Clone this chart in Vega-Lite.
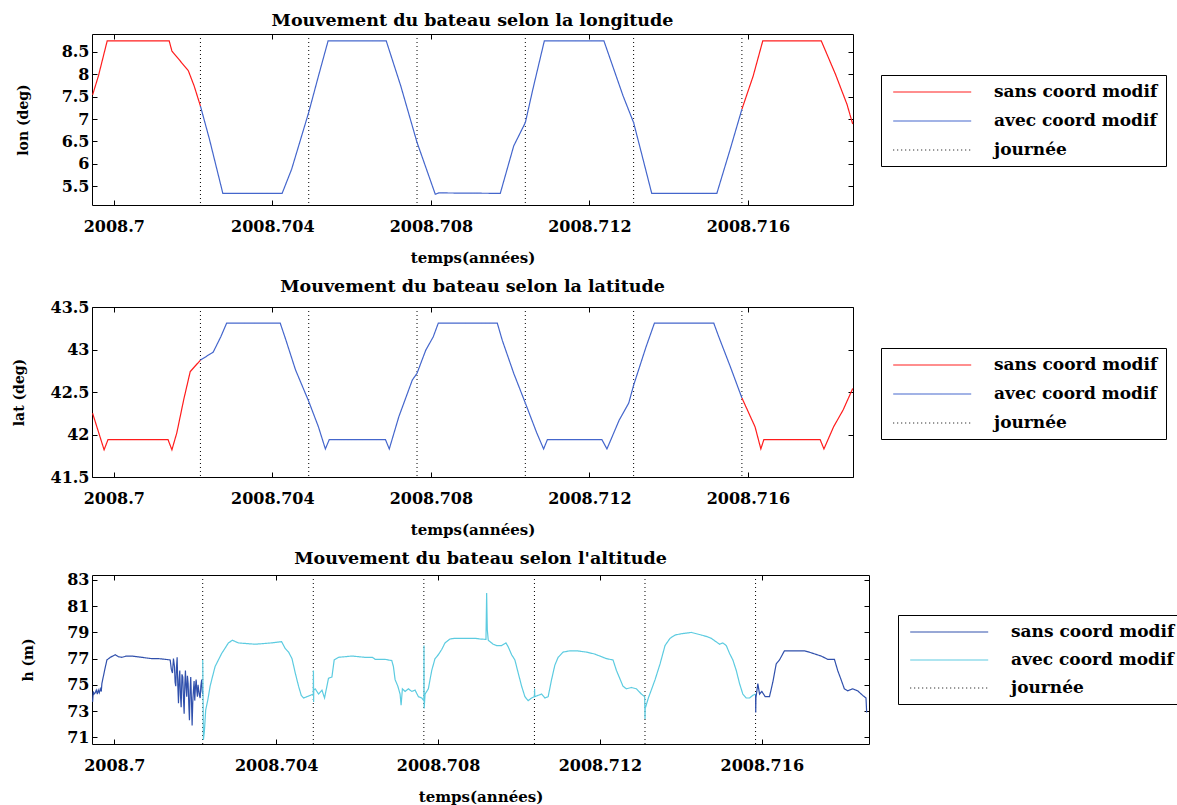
{
  "$schema": "https://vega.github.io/schema/vega-lite/v6.json",
  "background": "white",
  "padding": {"left": 11, "top": 11, "right": 0, "bottom": 0},
  "config": {
    "view": {"stroke": "black", "strokeWidth": 1},
    "font": "DejaVu Serif",
    "axis": {"grid": false, "domain": false, "tickColor": "black", "tickSize": -5, "labelFont": "DejaVu Serif", "labelFontWeight": "bold", "labelFontSize": 16, "labelColor": "black", "titleFont": "DejaVu Serif", "titleFontWeight": "bold", "titleColor": "black"},
    "title": {"font": "DejaVu Serif", "fontWeight": "bold", "fontSize": 17.5, "color": "black"},
    "legend": {"labelLimit": 400}
  },
  "datasets": {
    "days": [
      {"t": 2008.7021858, "serie": "journée"}, {"t": 2008.7049180, "serie": "journée"}, {"t": 2008.7076503, "serie": "journée"},
      {"t": 2008.7103825, "serie": "journée"}, {"t": 2008.7131148, "serie": "journée"}, {"t": 2008.7158470, "serie": "journée"}
    ],
    "lonS": [
      {"t": 2008.699465, "v": 7.54, "serie": "sans coord modif", "seg": 1},
      {"t": 2008.699611, "v": 7.96, "serie": "sans coord modif", "seg": 1},
      {"t": 2008.699833, "v": 8.745, "serie": "sans coord modif", "seg": 1},
      {"t": 2008.701398, "v": 8.745, "serie": "sans coord modif", "seg": 1},
      {"t": 2008.701466, "v": 8.52, "serie": "sans coord modif", "seg": 1},
      {"t": 2008.701880, "v": 8.08, "serie": "sans coord modif", "seg": 1},
      {"t": 2008.702027, "v": 7.74, "serie": "sans coord modif", "seg": 1},
      {"t": 2008.702186, "v": 7.29, "serie": "sans coord modif", "seg": 1},
      {"t": 2008.715847, "v": 7.22, "serie": "sans coord modif", "seg": 3},
      {"t": 2008.716131, "v": 7.96, "serie": "sans coord modif", "seg": 3},
      {"t": 2008.716373, "v": 8.745, "serie": "sans coord modif", "seg": 3},
      {"t": 2008.717850, "v": 8.745, "serie": "sans coord modif", "seg": 3},
      {"t": 2008.718208, "v": 8.0, "serie": "sans coord modif", "seg": 3},
      {"t": 2008.718498, "v": 7.33, "serie": "sans coord modif", "seg": 3},
      {"t": 2008.718642, "v": 6.89, "serie": "sans coord modif", "seg": 3}
    ],
    "lonA": [
      {"t": 2008.702186, "v": 7.29, "serie": "avec coord modif", "seg": 2},
      {"t": 2008.702413, "v": 6.55, "serie": "avec coord modif", "seg": 2},
      {"t": 2008.702751, "v": 5.34, "serie": "avec coord modif", "seg": 2},
      {"t": 2008.704247, "v": 5.34, "serie": "avec coord modif", "seg": 2},
      {"t": 2008.704487, "v": 5.88, "serie": "avec coord modif", "seg": 2},
      {"t": 2008.704918, "v": 7.15, "serie": "avec coord modif", "seg": 2},
      {"t": 2008.705163, "v": 7.96, "serie": "avec coord modif", "seg": 2},
      {"t": 2008.705406, "v": 8.745, "serie": "avec coord modif", "seg": 2},
      {"t": 2008.706874, "v": 8.745, "serie": "avec coord modif", "seg": 2},
      {"t": 2008.707240, "v": 7.74, "serie": "avec coord modif", "seg": 2},
      {"t": 2008.707650, "v": 6.48, "serie": "avec coord modif", "seg": 2},
      {"t": 2008.708111, "v": 5.32, "serie": "avec coord modif", "seg": 2},
      {"t": 2008.708200, "v": 5.35, "serie": "avec coord modif", "seg": 2},
      {"t": 2008.709751, "v": 5.34, "serie": "avec coord modif", "seg": 2},
      {"t": 2008.710090, "v": 6.40, "serie": "avec coord modif", "seg": 2},
      {"t": 2008.710383, "v": 6.92, "serie": "avec coord modif", "seg": 2},
      {"t": 2008.710574, "v": 7.67, "serie": "avec coord modif", "seg": 2},
      {"t": 2008.710862, "v": 8.745, "serie": "avec coord modif", "seg": 2},
      {"t": 2008.712366, "v": 8.745, "serie": "avec coord modif", "seg": 2},
      {"t": 2008.712848, "v": 7.52, "serie": "avec coord modif", "seg": 2},
      {"t": 2008.713115, "v": 6.92, "serie": "avec coord modif", "seg": 2},
      {"t": 2008.713330, "v": 6.18, "serie": "avec coord modif", "seg": 2},
      {"t": 2008.713572, "v": 5.34, "serie": "avec coord modif", "seg": 2},
      {"t": 2008.715215, "v": 5.34, "serie": "avec coord modif", "seg": 2},
      {"t": 2008.715553, "v": 6.33, "serie": "avec coord modif", "seg": 2},
      {"t": 2008.715847, "v": 7.22, "serie": "avec coord modif", "seg": 2}
    ],
    "latS": [
      {"t": 2008.699465, "v": 42.25, "serie": "sans coord modif", "seg": 1},
      {"t": 2008.699755, "v": 41.82, "serie": "sans coord modif", "seg": 1},
      {"t": 2008.699854, "v": 41.94, "serie": "sans coord modif", "seg": 1},
      {"t": 2008.701368, "v": 41.94, "serie": "sans coord modif", "seg": 1},
      {"t": 2008.701466, "v": 41.82, "serie": "sans coord modif", "seg": 1},
      {"t": 2008.701590, "v": 42.02, "serie": "sans coord modif", "seg": 1},
      {"t": 2008.701764, "v": 42.41, "serie": "sans coord modif", "seg": 1},
      {"t": 2008.701928, "v": 42.74, "serie": "sans coord modif", "seg": 1},
      {"t": 2008.702186, "v": 42.875, "serie": "sans coord modif", "seg": 1},
      {"t": 2008.715847, "v": 42.43, "serie": "sans coord modif", "seg": 3},
      {"t": 2008.716179, "v": 42.09, "serie": "sans coord modif", "seg": 3},
      {"t": 2008.716325, "v": 41.83, "serie": "sans coord modif", "seg": 3},
      {"t": 2008.716401, "v": 41.94, "serie": "sans coord modif", "seg": 3},
      {"t": 2008.717821, "v": 41.94, "serie": "sans coord modif", "seg": 3},
      {"t": 2008.717917, "v": 41.83, "serie": "sans coord modif", "seg": 3},
      {"t": 2008.718160, "v": 42.09, "serie": "sans coord modif", "seg": 3},
      {"t": 2008.718402, "v": 42.29, "serie": "sans coord modif", "seg": 3},
      {"t": 2008.718642, "v": 42.54, "serie": "sans coord modif", "seg": 3}
    ],
    "latA": [
      {"t": 2008.702186, "v": 42.875, "serie": "avec coord modif", "seg": 2},
      {"t": 2008.702509, "v": 42.97, "serie": "avec coord modif", "seg": 2},
      {"t": 2008.702700, "v": 43.15, "serie": "avec coord modif", "seg": 2},
      {"t": 2008.702847, "v": 43.31, "serie": "avec coord modif", "seg": 2},
      {"t": 2008.704199, "v": 43.31, "serie": "avec coord modif", "seg": 2},
      {"t": 2008.704343, "v": 43.11, "serie": "avec coord modif", "seg": 2},
      {"t": 2008.704585, "v": 42.76, "serie": "avec coord modif", "seg": 2},
      {"t": 2008.704918, "v": 42.39, "serie": "avec coord modif", "seg": 2},
      {"t": 2008.705163, "v": 42.09, "serie": "avec coord modif", "seg": 2},
      {"t": 2008.705338, "v": 41.83, "serie": "avec coord modif", "seg": 2},
      {"t": 2008.705436, "v": 41.94, "serie": "avec coord modif", "seg": 2},
      {"t": 2008.706854, "v": 41.94, "serie": "avec coord modif", "seg": 2},
      {"t": 2008.706950, "v": 41.83, "serie": "avec coord modif", "seg": 2},
      {"t": 2008.707192, "v": 42.21, "serie": "avec coord modif", "seg": 2},
      {"t": 2008.707531, "v": 42.64, "serie": "avec coord modif", "seg": 2},
      {"t": 2008.707650, "v": 42.72, "serie": "avec coord modif", "seg": 2},
      {"t": 2008.707869, "v": 42.99, "serie": "avec coord modif", "seg": 2},
      {"t": 2008.708060, "v": 43.15, "serie": "avec coord modif", "seg": 2},
      {"t": 2008.708187, "v": 43.31, "serie": "avec coord modif", "seg": 2},
      {"t": 2008.709676, "v": 43.31, "serie": "avec coord modif", "seg": 2},
      {"t": 2008.709800, "v": 43.11, "serie": "avec coord modif", "seg": 2},
      {"t": 2008.710090, "v": 42.72, "serie": "avec coord modif", "seg": 2},
      {"t": 2008.710383, "v": 42.37, "serie": "avec coord modif", "seg": 2},
      {"t": 2008.710670, "v": 42.02, "serie": "avec coord modif", "seg": 2},
      {"t": 2008.710844, "v": 41.83, "serie": "avec coord modif", "seg": 2},
      {"t": 2008.710940, "v": 41.94, "serie": "avec coord modif", "seg": 2},
      {"t": 2008.712315, "v": 41.94, "serie": "avec coord modif", "seg": 2},
      {"t": 2008.712442, "v": 41.83, "serie": "avec coord modif", "seg": 2},
      {"t": 2008.712752, "v": 42.17, "serie": "avec coord modif", "seg": 2},
      {"t": 2008.712992, "v": 42.37, "serie": "avec coord modif", "seg": 2},
      {"t": 2008.713115, "v": 42.58, "serie": "avec coord modif", "seg": 2},
      {"t": 2008.713428, "v": 43.03, "serie": "avec coord modif", "seg": 2},
      {"t": 2008.713640, "v": 43.31, "serie": "avec coord modif", "seg": 2},
      {"t": 2008.715137, "v": 43.31, "serie": "avec coord modif", "seg": 2},
      {"t": 2008.715263, "v": 43.15, "serie": "avec coord modif", "seg": 2},
      {"t": 2008.715553, "v": 42.80, "serie": "avec coord modif", "seg": 2},
      {"t": 2008.715847, "v": 42.43, "serie": "avec coord modif", "seg": 2}
    ],
    "hS": [
      {"t": 2008.699465, "v": 73.7, "serie": "sans coord modif", "seg": 1},
      {"t": 2008.699482, "v": 74.5, "serie": "sans coord modif", "seg": 1},
      {"t": 2008.699500, "v": 74.3, "serie": "sans coord modif", "seg": 1},
      {"t": 2008.699531, "v": 74.4, "serie": "sans coord modif", "seg": 1},
      {"t": 2008.699555, "v": 74.6, "serie": "sans coord modif", "seg": 1},
      {"t": 2008.699581, "v": 74.3, "serie": "sans coord modif", "seg": 1},
      {"t": 2008.699605, "v": 74.6, "serie": "sans coord modif", "seg": 1},
      {"t": 2008.699630, "v": 74.4, "serie": "sans coord modif", "seg": 1},
      {"t": 2008.699655, "v": 74.7, "serie": "sans coord modif", "seg": 1},
      {"t": 2008.699680, "v": 74.5, "serie": "sans coord modif", "seg": 1},
      {"t": 2008.699694, "v": 75.1, "serie": "sans coord modif", "seg": 1},
      {"t": 2008.699761, "v": 76.1, "serie": "sans coord modif", "seg": 1},
      {"t": 2008.699818, "v": 76.9, "serie": "sans coord modif", "seg": 1},
      {"t": 2008.699902, "v": 77.1, "serie": "sans coord modif", "seg": 1},
      {"t": 2008.700025, "v": 77.3, "serie": "sans coord modif", "seg": 1},
      {"t": 2008.700100, "v": 77.15, "serie": "sans coord modif", "seg": 1},
      {"t": 2008.700188, "v": 77.1, "serie": "sans coord modif", "seg": 1},
      {"t": 2008.700300, "v": 77.2, "serie": "sans coord modif", "seg": 1},
      {"t": 2008.700434, "v": 77.2, "serie": "sans coord modif", "seg": 1},
      {"t": 2008.700550, "v": 77.15, "serie": "sans coord modif", "seg": 1},
      {"t": 2008.700681, "v": 77.1, "serie": "sans coord modif", "seg": 1},
      {"t": 2008.700800, "v": 77.05, "serie": "sans coord modif", "seg": 1},
      {"t": 2008.700928, "v": 77.0, "serie": "sans coord modif", "seg": 1},
      {"t": 2008.701100, "v": 77.0, "serie": "sans coord modif", "seg": 1},
      {"t": 2008.701258, "v": 76.95, "serie": "sans coord modif", "seg": 1},
      {"t": 2008.701382, "v": 76.9, "serie": "sans coord modif", "seg": 1},
      {"t": 2008.701410, "v": 76.2, "serie": "sans coord modif", "seg": 1},
      {"t": 2008.701438, "v": 75.9, "serie": "sans coord modif", "seg": 1},
      {"t": 2008.701463, "v": 77.0, "serie": "sans coord modif", "seg": 1},
      {"t": 2008.701488, "v": 76.4, "serie": "sans coord modif", "seg": 1},
      {"t": 2008.701504, "v": 75.2, "serie": "sans coord modif", "seg": 1},
      {"t": 2008.701520, "v": 74.9, "serie": "sans coord modif", "seg": 1},
      {"t": 2008.701537, "v": 76.3, "serie": "sans coord modif", "seg": 1},
      {"t": 2008.701554, "v": 77.1, "serie": "sans coord modif", "seg": 1},
      {"t": 2008.701570, "v": 75.0, "serie": "sans coord modif", "seg": 1},
      {"t": 2008.701587, "v": 73.6, "serie": "sans coord modif", "seg": 1},
      {"t": 2008.701603, "v": 75.4, "serie": "sans coord modif", "seg": 1},
      {"t": 2008.701619, "v": 76.1, "serie": "sans coord modif", "seg": 1},
      {"t": 2008.701636, "v": 74.2, "serie": "sans coord modif", "seg": 1},
      {"t": 2008.701653, "v": 73.3, "serie": "sans coord modif", "seg": 1},
      {"t": 2008.701673, "v": 75.8, "serie": "sans coord modif", "seg": 1},
      {"t": 2008.701693, "v": 75.6, "serie": "sans coord modif", "seg": 1},
      {"t": 2008.701710, "v": 74.0, "serie": "sans coord modif", "seg": 1},
      {"t": 2008.701727, "v": 72.8, "serie": "sans coord modif", "seg": 1},
      {"t": 2008.701743, "v": 75.0, "serie": "sans coord modif", "seg": 1},
      {"t": 2008.701759, "v": 76.1, "serie": "sans coord modif", "seg": 1},
      {"t": 2008.701775, "v": 74.8, "serie": "sans coord modif", "seg": 1},
      {"t": 2008.701791, "v": 74.1, "serie": "sans coord modif", "seg": 1},
      {"t": 2008.701808, "v": 75.7, "serie": "sans coord modif", "seg": 1},
      {"t": 2008.701826, "v": 75.1, "serie": "sans coord modif", "seg": 1},
      {"t": 2008.701842, "v": 73.5, "serie": "sans coord modif", "seg": 1},
      {"t": 2008.701858, "v": 72.3, "serie": "sans coord modif", "seg": 1},
      {"t": 2008.701874, "v": 74.6, "serie": "sans coord modif", "seg": 1},
      {"t": 2008.701890, "v": 75.6, "serie": "sans coord modif", "seg": 1},
      {"t": 2008.701907, "v": 73.9, "serie": "sans coord modif", "seg": 1},
      {"t": 2008.701924, "v": 71.9, "serie": "sans coord modif", "seg": 1},
      {"t": 2008.701940, "v": 73.7, "serie": "sans coord modif", "seg": 1},
      {"t": 2008.701957, "v": 74.6, "serie": "sans coord modif", "seg": 1},
      {"t": 2008.701973, "v": 75.3, "serie": "sans coord modif", "seg": 1},
      {"t": 2008.701989, "v": 73.8, "serie": "sans coord modif", "seg": 1},
      {"t": 2008.702006, "v": 74.8, "serie": "sans coord modif", "seg": 1},
      {"t": 2008.702023, "v": 75.4, "serie": "sans coord modif", "seg": 1},
      {"t": 2008.702039, "v": 74.6, "serie": "sans coord modif", "seg": 1},
      {"t": 2008.702055, "v": 74.1, "serie": "sans coord modif", "seg": 1},
      {"t": 2008.702071, "v": 75.0, "serie": "sans coord modif", "seg": 1},
      {"t": 2008.702087, "v": 74.6, "serie": "sans coord modif", "seg": 1},
      {"t": 2008.702105, "v": 74.2, "serie": "sans coord modif", "seg": 1},
      {"t": 2008.702122, "v": 74.0, "serie": "sans coord modif", "seg": 1},
      {"t": 2008.702140, "v": 74.9, "serie": "sans coord modif", "seg": 1},
      {"t": 2008.702161, "v": 75.4, "serie": "sans coord modif", "seg": 1},
      {"t": 2008.702175, "v": 74.5, "serie": "sans coord modif", "seg": 1},
      {"t": 2008.702186, "v": 74.3, "serie": "sans coord modif", "seg": 1},
      {"t": 2008.715847, "v": 74.3, "serie": "sans coord modif", "seg": 3},
      {"t": 2008.715851, "v": 72.9, "serie": "sans coord modif", "seg": 3},
      {"t": 2008.715856, "v": 74.0, "serie": "sans coord modif", "seg": 3},
      {"t": 2008.715903, "v": 75.1, "serie": "sans coord modif", "seg": 3},
      {"t": 2008.715945, "v": 74.3, "serie": "sans coord modif", "seg": 3},
      {"t": 2008.716002, "v": 74.5, "serie": "sans coord modif", "seg": 3},
      {"t": 2008.716085, "v": 74.1, "serie": "sans coord modif", "seg": 3},
      {"t": 2008.716191, "v": 74.1, "serie": "sans coord modif", "seg": 3},
      {"t": 2008.716273, "v": 75.2, "serie": "sans coord modif", "seg": 3},
      {"t": 2008.716357, "v": 76.6, "serie": "sans coord modif", "seg": 3},
      {"t": 2008.716438, "v": 76.9, "serie": "sans coord modif", "seg": 3},
      {"t": 2008.716561, "v": 77.6, "serie": "sans coord modif", "seg": 3},
      {"t": 2008.716808, "v": 77.6, "serie": "sans coord modif", "seg": 3},
      {"t": 2008.717055, "v": 77.6, "serie": "sans coord modif", "seg": 3},
      {"t": 2008.717220, "v": 77.45, "serie": "sans coord modif", "seg": 3},
      {"t": 2008.717467, "v": 77.2, "serie": "sans coord modif", "seg": 3},
      {"t": 2008.717630, "v": 76.95, "serie": "sans coord modif", "seg": 3},
      {"t": 2008.717795, "v": 76.95, "serie": "sans coord modif", "seg": 3},
      {"t": 2008.717876, "v": 76.1, "serie": "sans coord modif", "seg": 3},
      {"t": 2008.717960, "v": 75.4, "serie": "sans coord modif", "seg": 3},
      {"t": 2008.718041, "v": 74.7, "serie": "sans coord modif", "seg": 3},
      {"t": 2008.718123, "v": 74.55, "serie": "sans coord modif", "seg": 3},
      {"t": 2008.718246, "v": 74.7, "serie": "sans coord modif", "seg": 3},
      {"t": 2008.718369, "v": 74.55, "serie": "sans coord modif", "seg": 3},
      {"t": 2008.718493, "v": 74.2, "serie": "sans coord modif", "seg": 3},
      {"t": 2008.718576, "v": 74.0, "serie": "sans coord modif", "seg": 3},
      {"t": 2008.718592, "v": 72.9, "serie": "sans coord modif", "seg": 3}
    ],
    "hA": [
      {"t": 2008.702186, "v": 76.9, "serie": "avec coord modif", "seg": 2},
      {"t": 2008.702196, "v": 73.5, "serie": "avec coord modif", "seg": 2},
      {"t": 2008.702203, "v": 70.8, "serie": "avec coord modif", "seg": 2},
      {"t": 2008.702228, "v": 71.5, "serie": "avec coord modif", "seg": 2},
      {"t": 2008.702260, "v": 73.1, "serie": "avec coord modif", "seg": 2},
      {"t": 2008.702309, "v": 73.8, "serie": "avec coord modif", "seg": 2},
      {"t": 2008.702369, "v": 74.9, "serie": "avec coord modif", "seg": 2},
      {"t": 2008.702425, "v": 75.6, "serie": "avec coord modif", "seg": 2},
      {"t": 2008.702492, "v": 76.4, "serie": "avec coord modif", "seg": 2},
      {"t": 2008.702573, "v": 76.9, "serie": "avec coord modif", "seg": 2},
      {"t": 2008.702655, "v": 77.4, "serie": "avec coord modif", "seg": 2},
      {"t": 2008.702739, "v": 77.8, "serie": "avec coord modif", "seg": 2},
      {"t": 2008.702820, "v": 78.2, "serie": "avec coord modif", "seg": 2},
      {"t": 2008.702919, "v": 78.4, "serie": "avec coord modif", "seg": 2},
      {"t": 2008.703067, "v": 78.2, "serie": "avec coord modif", "seg": 2},
      {"t": 2008.703479, "v": 78.1, "serie": "avec coord modif", "seg": 2},
      {"t": 2008.703888, "v": 78.2, "serie": "avec coord modif", "seg": 2},
      {"t": 2008.704135, "v": 78.3, "serie": "avec coord modif", "seg": 2},
      {"t": 2008.704219, "v": 77.8, "serie": "avec coord modif", "seg": 2},
      {"t": 2008.704308, "v": 77.5, "serie": "avec coord modif", "seg": 2},
      {"t": 2008.704392, "v": 77.0, "serie": "avec coord modif", "seg": 2},
      {"t": 2008.704473, "v": 75.9, "serie": "avec coord modif", "seg": 2},
      {"t": 2008.704554, "v": 74.9, "serie": "avec coord modif", "seg": 2},
      {"t": 2008.704621, "v": 74.2, "serie": "avec coord modif", "seg": 2},
      {"t": 2008.704678, "v": 74.0, "serie": "avec coord modif", "seg": 2},
      {"t": 2008.704762, "v": 74.1, "serie": "avec coord modif", "seg": 2},
      {"t": 2008.704843, "v": 74.2, "serie": "avec coord modif", "seg": 2},
      {"t": 2008.704918, "v": 74.3, "serie": "avec coord modif", "seg": 2},
      {"t": 2008.704922, "v": 76.1, "serie": "avec coord modif", "seg": 2},
      {"t": 2008.704926, "v": 73.7, "serie": "avec coord modif", "seg": 2},
      {"t": 2008.704930, "v": 74.6, "serie": "avec coord modif", "seg": 2},
      {"t": 2008.704966, "v": 74.7, "serie": "avec coord modif", "seg": 2},
      {"t": 2008.705048, "v": 74.3, "serie": "avec coord modif", "seg": 2},
      {"t": 2008.705132, "v": 74.6, "serie": "avec coord modif", "seg": 2},
      {"t": 2008.705196, "v": 74.0, "serie": "avec coord modif", "seg": 2},
      {"t": 2008.705255, "v": 74.9, "serie": "avec coord modif", "seg": 2},
      {"t": 2008.705294, "v": 75.5, "serie": "avec coord modif", "seg": 2},
      {"t": 2008.705378, "v": 75.6, "serie": "avec coord modif", "seg": 2},
      {"t": 2008.705435, "v": 76.9, "serie": "avec coord modif", "seg": 2},
      {"t": 2008.705541, "v": 77.1, "serie": "avec coord modif", "seg": 2},
      {"t": 2008.705872, "v": 77.2, "serie": "avec coord modif", "seg": 2},
      {"t": 2008.706200, "v": 77.1, "serie": "avec coord modif", "seg": 2},
      {"t": 2008.706380, "v": 77.1, "serie": "avec coord modif", "seg": 2},
      {"t": 2008.706447, "v": 76.95, "serie": "avec coord modif", "seg": 2},
      {"t": 2008.706693, "v": 76.95, "serie": "avec coord modif", "seg": 2},
      {"t": 2008.706858, "v": 76.85, "serie": "avec coord modif", "seg": 2},
      {"t": 2008.706898, "v": 76.4, "serie": "avec coord modif", "seg": 2},
      {"t": 2008.706940, "v": 75.4, "serie": "avec coord modif", "seg": 2},
      {"t": 2008.707007, "v": 74.9, "serie": "avec coord modif", "seg": 2},
      {"t": 2008.707063, "v": 74.3, "serie": "avec coord modif", "seg": 2},
      {"t": 2008.707088, "v": 73.45, "serie": "avec coord modif", "seg": 2},
      {"t": 2008.707120, "v": 74.7, "serie": "avec coord modif", "seg": 2},
      {"t": 2008.707187, "v": 74.5, "serie": "avec coord modif", "seg": 2},
      {"t": 2008.707268, "v": 74.7, "serie": "avec coord modif", "seg": 2},
      {"t": 2008.707352, "v": 74.5, "serie": "avec coord modif", "seg": 2},
      {"t": 2008.707433, "v": 74.6, "serie": "avec coord modif", "seg": 2},
      {"t": 2008.707515, "v": 74.1, "serie": "avec coord modif", "seg": 2},
      {"t": 2008.707599, "v": 74.0, "serie": "avec coord modif", "seg": 2},
      {"t": 2008.707650, "v": 73.8, "serie": "avec coord modif", "seg": 2},
      {"t": 2008.707654, "v": 78.0, "serie": "avec coord modif", "seg": 2},
      {"t": 2008.707658, "v": 73.2, "serie": "avec coord modif", "seg": 2},
      {"t": 2008.707680, "v": 74.3, "serie": "avec coord modif", "seg": 2},
      {"t": 2008.707761, "v": 74.7, "serie": "avec coord modif", "seg": 2},
      {"t": 2008.707845, "v": 76.1, "serie": "avec coord modif", "seg": 2},
      {"t": 2008.707926, "v": 77.0, "serie": "avec coord modif", "seg": 2},
      {"t": 2008.708008, "v": 77.3, "serie": "avec coord modif", "seg": 2},
      {"t": 2008.708092, "v": 77.7, "serie": "avec coord modif", "seg": 2},
      {"t": 2008.708173, "v": 78.2, "serie": "avec coord modif", "seg": 2},
      {"t": 2008.708297, "v": 78.5, "serie": "avec coord modif", "seg": 2},
      {"t": 2008.708420, "v": 78.55, "serie": "avec coord modif", "seg": 2},
      {"t": 2008.708667, "v": 78.55, "serie": "avec coord modif", "seg": 2},
      {"t": 2008.708914, "v": 78.55, "serie": "avec coord modif", "seg": 2},
      {"t": 2008.709037, "v": 78.5, "serie": "avec coord modif", "seg": 2},
      {"t": 2008.709185, "v": 78.47, "serie": "avec coord modif", "seg": 2},
      {"t": 2008.709202, "v": 82.0, "serie": "avec coord modif", "seg": 2},
      {"t": 2008.709210, "v": 80.5, "serie": "avec coord modif", "seg": 2},
      {"t": 2008.709218, "v": 79.2, "serie": "avec coord modif", "seg": 2},
      {"t": 2008.709242, "v": 78.4, "serie": "avec coord modif", "seg": 2},
      {"t": 2008.709284, "v": 78.3, "serie": "avec coord modif", "seg": 2},
      {"t": 2008.709365, "v": 78.1, "serie": "avec coord modif", "seg": 2},
      {"t": 2008.709449, "v": 78.0, "serie": "avec coord modif", "seg": 2},
      {"t": 2008.709572, "v": 78.0, "serie": "avec coord modif", "seg": 2},
      {"t": 2008.709678, "v": 78.2, "serie": "avec coord modif", "seg": 2},
      {"t": 2008.709735, "v": 77.9, "serie": "avec coord modif", "seg": 2},
      {"t": 2008.709819, "v": 77.3, "serie": "avec coord modif", "seg": 2},
      {"t": 2008.709900, "v": 76.9, "serie": "avec coord modif", "seg": 2},
      {"t": 2008.709982, "v": 75.9, "serie": "avec coord modif", "seg": 2},
      {"t": 2008.710066, "v": 74.9, "serie": "avec coord modif", "seg": 2},
      {"t": 2008.710147, "v": 74.1, "serie": "avec coord modif", "seg": 2},
      {"t": 2008.710228, "v": 73.8, "serie": "avec coord modif", "seg": 2},
      {"t": 2008.710312, "v": 74.0, "serie": "avec coord modif", "seg": 2},
      {"t": 2008.710383, "v": 74.1, "serie": "avec coord modif", "seg": 2},
      {"t": 2008.710387, "v": 74.7, "serie": "avec coord modif", "seg": 2},
      {"t": 2008.710391, "v": 74.1, "serie": "avec coord modif", "seg": 2},
      {"t": 2008.710475, "v": 74.2, "serie": "avec coord modif", "seg": 2},
      {"t": 2008.710559, "v": 74.3, "serie": "avec coord modif", "seg": 2},
      {"t": 2008.710640, "v": 74.0, "serie": "avec coord modif", "seg": 2},
      {"t": 2008.710722, "v": 74.1, "serie": "avec coord modif", "seg": 2},
      {"t": 2008.710806, "v": 75.4, "serie": "avec coord modif", "seg": 2},
      {"t": 2008.710887, "v": 76.5, "serie": "avec coord modif", "seg": 2},
      {"t": 2008.710968, "v": 77.1, "serie": "avec coord modif", "seg": 2},
      {"t": 2008.711092, "v": 77.5, "serie": "avec coord modif", "seg": 2},
      {"t": 2008.711257, "v": 77.6, "serie": "avec coord modif", "seg": 2},
      {"t": 2008.711422, "v": 77.6, "serie": "avec coord modif", "seg": 2},
      {"t": 2008.711669, "v": 77.5, "serie": "avec coord modif", "seg": 2},
      {"t": 2008.711874, "v": 77.35, "serie": "avec coord modif", "seg": 2},
      {"t": 2008.712079, "v": 77.1, "serie": "avec coord modif", "seg": 2},
      {"t": 2008.712163, "v": 77.0, "serie": "avec coord modif", "seg": 2},
      {"t": 2008.712325, "v": 76.9, "serie": "avec coord modif", "seg": 2},
      {"t": 2008.712409, "v": 76.1, "serie": "avec coord modif", "seg": 2},
      {"t": 2008.712490, "v": 75.5, "serie": "avec coord modif", "seg": 2},
      {"t": 2008.712571, "v": 74.9, "serie": "avec coord modif", "seg": 2},
      {"t": 2008.712655, "v": 74.7, "serie": "avec coord modif", "seg": 2},
      {"t": 2008.712779, "v": 74.8, "serie": "avec coord modif", "seg": 2},
      {"t": 2008.712902, "v": 74.7, "serie": "avec coord modif", "seg": 2},
      {"t": 2008.713025, "v": 74.3, "serie": "avec coord modif", "seg": 2},
      {"t": 2008.713107, "v": 74.1, "serie": "avec coord modif", "seg": 2},
      {"t": 2008.713115, "v": 72.4, "serie": "avec coord modif", "seg": 2},
      {"t": 2008.713120, "v": 73.2, "serie": "avec coord modif", "seg": 2},
      {"t": 2008.713198, "v": 74.0, "serie": "avec coord modif", "seg": 2},
      {"t": 2008.713282, "v": 74.7, "serie": "avec coord modif", "seg": 2},
      {"t": 2008.713364, "v": 75.4, "serie": "avec coord modif", "seg": 2},
      {"t": 2008.713487, "v": 76.6, "serie": "avec coord modif", "seg": 2},
      {"t": 2008.713610, "v": 78.0, "serie": "avec coord modif", "seg": 2},
      {"t": 2008.713733, "v": 78.55, "serie": "avec coord modif", "seg": 2},
      {"t": 2008.713857, "v": 78.8, "serie": "avec coord modif", "seg": 2},
      {"t": 2008.714013, "v": 78.9, "serie": "avec coord modif", "seg": 2},
      {"t": 2008.714260, "v": 79.0, "serie": "avec coord modif", "seg": 2},
      {"t": 2008.714506, "v": 78.8, "serie": "avec coord modif", "seg": 2},
      {"t": 2008.714630, "v": 78.7, "serie": "avec coord modif", "seg": 2},
      {"t": 2008.714753, "v": 78.55, "serie": "avec coord modif", "seg": 2},
      {"t": 2008.714958, "v": 78.1, "serie": "avec coord modif", "seg": 2},
      {"t": 2008.715039, "v": 78.2, "serie": "avec coord modif", "seg": 2},
      {"t": 2008.715123, "v": 78.0, "serie": "avec coord modif", "seg": 2},
      {"t": 2008.715204, "v": 77.4, "serie": "avec coord modif", "seg": 2},
      {"t": 2008.715286, "v": 76.9, "serie": "avec coord modif", "seg": 2},
      {"t": 2008.715370, "v": 76.1, "serie": "avec coord modif", "seg": 2},
      {"t": 2008.715451, "v": 75.1, "serie": "avec coord modif", "seg": 2},
      {"t": 2008.715532, "v": 74.3, "serie": "avec coord modif", "seg": 2},
      {"t": 2008.715616, "v": 74.0, "serie": "avec coord modif", "seg": 2},
      {"t": 2008.715698, "v": 74.0, "serie": "avec coord modif", "seg": 2},
      {"t": 2008.715779, "v": 74.2, "serie": "avec coord modif", "seg": 2},
      {"t": 2008.715847, "v": 74.3, "serie": "avec coord modif", "seg": 2}
    ]
  },
  "spacing": 11,
  "resolve": {"scale": {"color": "independent", "strokeDash": "independent"}, "legend": {"color": "independent", "strokeDash": "independent"}},
  "vconcat": [
    {
      "width": 761, "height": 171,
      "title": {"text": "Mouvement du bateau selon la longitude", "offset": 4},
      "resolve": {"axis": {"x": "independent", "y": "independent"}},
      "layer": [
        {
          "data": {"name": "days"},
          "mark": {"type": "rule", "strokeWidth": 1},
          "encoding": {
            "x": {"field": "t", "type": "quantitative", "scale": {"domain": [2008.69945, 2008.71865], "nice": false, "zero": false}, "axis": null},
            "color": {"field": "serie", "type": "nominal", "scale": {"domain": ["sans coord modif", "avec coord modif", "journée"], "range": ["#ff1c1c", "#4466cc", "#000000"]},
              "legend": {"orient": "none", "legendX": 789, "legendY": 41, "title": null, "symbolType": "M-0.6,0H9.15", "symbolSize": 256, "symbolStrokeWidth": 1.2, "labelFont": "DejaVu Serif", "labelFontWeight": "bold", "labelFontSize": 17, "labelColor": "black", "labelOffset": 87, "labelLimit": 400, "padding": 8, "rowPadding": 12, "strokeColor": "black", "fillColor": "white"}},
            "strokeDash": {"field": "serie", "type": "nominal", "scale": {"domain": ["sans coord modif", "avec coord modif", "journée"], "range": [[1, 0], [1, 0], [1, 3]]},
              "legend": {"orient": "none", "legendX": 789, "legendY": 41, "title": null, "symbolType": "M-0.6,0H9.15", "symbolSize": 256, "symbolStrokeWidth": 1.2, "labelFont": "DejaVu Serif", "labelFontWeight": "bold", "labelFontSize": 17, "labelColor": "black", "labelOffset": 87, "labelLimit": 400, "padding": 8, "rowPadding": 12, "strokeColor": "black", "fillColor": "white"}}
          }
        },
        {
          "data": {"name": "lonS"},
          "mark": {"type": "line", "strokeWidth": 1.2},
          "encoding": {
            "x": {"field": "t", "type": "quantitative", "scale": {"domain": [2008.69945, 2008.71865], "nice": false, "zero": false},
              "axis": {"orient": "bottom", "values": [2008.7, 2008.704, 2008.708, 2008.712, 2008.716], "format": ".3~f", "title": "temps(années)", "titleFontSize": 15, "labelPadding": 18, "titlePadding": 16}},
            "y": {"field": "v", "type": "quantitative", "scale": {"domain": [5.08, 8.9], "nice": false, "zero": false},
              "axis": {"orient": "left", "values": [5.5, 6, 6.5, 7, 7.5, 8, 8.5], "format": "~g", "title": "lon (deg)", "titleFontSize": 14, "labelPadding": 8, "titlePadding": 31}},
            "color": {"field": "serie", "type": "nominal", "scale": {"domain": ["sans coord modif", "avec coord modif", "journée"], "range": ["#ff1c1c", "#4466cc", "#000000"]}},
            "strokeDash": {"field": "serie", "type": "nominal", "scale": {"domain": ["sans coord modif", "avec coord modif", "journée"], "range": [[1, 0], [1, 0], [1, 3]]}},
            "detail": {"field": "seg", "type": "nominal"}
          }
        },
        {
          "data": {"name": "lonA"},
          "mark": {"type": "line", "strokeWidth": 1.2},
          "encoding": {
            "x": {"field": "t", "type": "quantitative", "scale": {"domain": [2008.69945, 2008.71865], "nice": false, "zero": false},
              "axis": {"orient": "top", "values": [2008.7, 2008.704, 2008.708, 2008.712, 2008.716], "labels": false, "title": null}},
            "y": {"field": "v", "type": "quantitative", "scale": {"domain": [5.08, 8.9], "nice": false, "zero": false},
              "axis": {"orient": "right", "values": [5.5, 6, 6.5, 7, 7.5, 8, 8.5], "labels": false, "title": null}},
            "color": {"field": "serie", "type": "nominal", "scale": {"domain": ["sans coord modif", "avec coord modif", "journée"], "range": ["#ff1c1c", "#4466cc", "#000000"]}},
            "strokeDash": {"field": "serie", "type": "nominal", "scale": {"domain": ["sans coord modif", "avec coord modif", "journée"], "range": [[1, 0], [1, 0], [1, 3]]}}
          }
        }
      ]
    },
    {
      "width": 761, "height": 170,
      "title": {"text": "Mouvement du bateau selon la latitude", "offset": 4},
      "resolve": {"axis": {"x": "independent", "y": "independent"}},
      "layer": [
        {
          "data": {"name": "days"},
          "mark": {"type": "rule", "strokeWidth": 1},
          "encoding": {
            "x": {"field": "t", "type": "quantitative", "scale": {"domain": [2008.69945, 2008.71865], "nice": false, "zero": false}, "axis": null},
            "color": {"field": "serie", "type": "nominal", "scale": {"domain": ["sans coord modif", "avec coord modif", "journée"], "range": ["#ff1c1c", "#4466cc", "#000000"]},
              "legend": {"orient": "none", "legendX": 789, "legendY": 41, "title": null, "symbolType": "M-0.6,0H9.15", "symbolSize": 256, "symbolStrokeWidth": 1.2, "labelFont": "DejaVu Serif", "labelFontWeight": "bold", "labelFontSize": 17, "labelColor": "black", "labelOffset": 87, "labelLimit": 400, "padding": 8, "rowPadding": 12, "strokeColor": "black", "fillColor": "white"}},
            "strokeDash": {"field": "serie", "type": "nominal", "scale": {"domain": ["sans coord modif", "avec coord modif", "journée"], "range": [[1, 0], [1, 0], [1, 3]]},
              "legend": {"orient": "none", "legendX": 789, "legendY": 41, "title": null, "symbolType": "M-0.6,0H9.15", "symbolSize": 256, "symbolStrokeWidth": 1.2, "labelFont": "DejaVu Serif", "labelFontWeight": "bold", "labelFontSize": 17, "labelColor": "black", "labelOffset": 87, "labelLimit": 400, "padding": 8, "rowPadding": 12, "strokeColor": "black", "fillColor": "white"}}
          }
        },
        {
          "data": {"name": "latS"},
          "mark": {"type": "line", "strokeWidth": 1.2},
          "encoding": {
            "x": {"field": "t", "type": "quantitative", "scale": {"domain": [2008.69945, 2008.71865], "nice": false, "zero": false},
              "axis": {"orient": "bottom", "values": [2008.7, 2008.704, 2008.708, 2008.712, 2008.716], "format": ".3~f", "title": "temps(années)", "titleFontSize": 15, "labelPadding": 18, "titlePadding": 16}},
            "y": {"field": "v", "type": "quantitative", "scale": {"domain": [41.5, 43.5], "nice": false, "zero": false},
              "axis": {"orient": "left", "values": [41.5, 42, 42.5, 43, 43.5], "format": "~g", "title": "lat (deg)", "titleFontSize": 14, "labelPadding": 8, "titlePadding": 24}},
            "color": {"field": "serie", "type": "nominal", "scale": {"domain": ["sans coord modif", "avec coord modif", "journée"], "range": ["#ff1c1c", "#4466cc", "#000000"]}},
            "strokeDash": {"field": "serie", "type": "nominal", "scale": {"domain": ["sans coord modif", "avec coord modif", "journée"], "range": [[1, 0], [1, 0], [1, 3]]}},
            "detail": {"field": "seg", "type": "nominal"}
          }
        },
        {
          "data": {"name": "latA"},
          "mark": {"type": "line", "strokeWidth": 1.2},
          "encoding": {
            "x": {"field": "t", "type": "quantitative", "scale": {"domain": [2008.69945, 2008.71865], "nice": false, "zero": false},
              "axis": {"orient": "top", "values": [2008.7, 2008.704, 2008.708, 2008.712, 2008.716], "labels": false, "title": null}},
            "y": {"field": "v", "type": "quantitative", "scale": {"domain": [41.5, 43.5], "nice": false, "zero": false},
              "axis": {"orient": "right", "values": [41.5, 42, 42.5, 43, 43.5], "labels": false, "title": null}},
            "color": {"field": "serie", "type": "nominal", "scale": {"domain": ["sans coord modif", "avec coord modif", "journée"], "range": ["#ff1c1c", "#4466cc", "#000000"]}},
            "strokeDash": {"field": "serie", "type": "nominal", "scale": {"domain": ["sans coord modif", "avec coord modif", "journée"], "range": [[1, 0], [1, 0], [1, 3]]}}
          }
        }
      ]
    },
    {
      "width": 777, "height": 169,
      "title": {"text": "Mouvement du bateau selon l'altitude", "offset": 4},
      "resolve": {"axis": {"x": "independent", "y": "independent"}},
      "layer": [
        {
          "data": {"name": "days"},
          "mark": {"type": "rule", "strokeWidth": 1},
          "encoding": {
            "x": {"field": "t", "type": "quantitative", "scale": {"domain": [2008.69945, 2008.71865], "nice": false, "zero": false}, "axis": null},
            "color": {"field": "serie", "type": "nominal", "scale": {"domain": ["sans coord modif", "avec coord modif", "journée"], "range": ["#3050ac", "#5ccbe0", "#000000"]},
              "legend": {"orient": "none", "legendX": 806, "legendY": 40, "title": null, "symbolType": "M-0.6,0H9.15", "symbolSize": 256, "symbolStrokeWidth": 1.2, "labelFont": "DejaVu Serif", "labelFontWeight": "bold", "labelFontSize": 17, "labelColor": "black", "labelOffset": 87, "labelLimit": 400, "padding": 8, "rowPadding": 11, "strokeColor": "black", "fillColor": "white"}},
            "strokeDash": {"field": "serie", "type": "nominal", "scale": {"domain": ["sans coord modif", "avec coord modif", "journée"], "range": [[1, 0], [1, 0], [1, 3]]},
              "legend": {"orient": "none", "legendX": 806, "legendY": 40, "title": null, "symbolType": "M-0.6,0H9.15", "symbolSize": 256, "symbolStrokeWidth": 1.2, "labelFont": "DejaVu Serif", "labelFontWeight": "bold", "labelFontSize": 17, "labelColor": "black", "labelOffset": 87, "labelLimit": 400, "padding": 8, "rowPadding": 11, "strokeColor": "black", "fillColor": "white"}}
          }
        },
        {
          "data": {"name": "hS"},
          "mark": {"type": "line", "strokeWidth": 1.2},
          "encoding": {
            "x": {"field": "t", "type": "quantitative", "scale": {"domain": [2008.69945, 2008.71865], "nice": false, "zero": false},
              "axis": {"orient": "bottom", "values": [2008.7, 2008.704, 2008.708, 2008.712, 2008.716], "format": ".3~f", "title": "temps(années)", "titleFontSize": 15, "labelPadding": 18, "titlePadding": 16}},
            "y": {"field": "v", "type": "quantitative", "scale": {"domain": [70.49, 83.38], "nice": false, "zero": false},
              "axis": {"orient": "left", "values": [71, 73, 75, 77, 79, 81, 83], "format": "~g", "title": "h (m)", "titleFontSize": 14, "labelPadding": 8, "titlePadding": 31}},
            "color": {"field": "serie", "type": "nominal", "scale": {"domain": ["sans coord modif", "avec coord modif", "journée"], "range": ["#3050ac", "#5ccbe0", "#000000"]}},
            "strokeDash": {"field": "serie", "type": "nominal", "scale": {"domain": ["sans coord modif", "avec coord modif", "journée"], "range": [[1, 0], [1, 0], [1, 3]]}},
            "detail": {"field": "seg", "type": "nominal"}
          }
        },
        {
          "data": {"name": "hA"},
          "mark": {"type": "line", "strokeWidth": 1.2},
          "encoding": {
            "x": {"field": "t", "type": "quantitative", "scale": {"domain": [2008.69945, 2008.71865], "nice": false, "zero": false},
              "axis": {"orient": "top", "values": [2008.7, 2008.704, 2008.708, 2008.712, 2008.716], "labels": false, "title": null}},
            "y": {"field": "v", "type": "quantitative", "scale": {"domain": [70.49, 83.38], "nice": false, "zero": false},
              "axis": {"orient": "right", "values": [71, 73, 75, 77, 79, 81, 83], "labels": false, "title": null}},
            "color": {"field": "serie", "type": "nominal", "scale": {"domain": ["sans coord modif", "avec coord modif", "journée"], "range": ["#3050ac", "#5ccbe0", "#000000"]}},
            "strokeDash": {"field": "serie", "type": "nominal", "scale": {"domain": ["sans coord modif", "avec coord modif", "journée"], "range": [[1, 0], [1, 0], [1, 3]]}}
          }
        }
      ]
    }
  ]
}
